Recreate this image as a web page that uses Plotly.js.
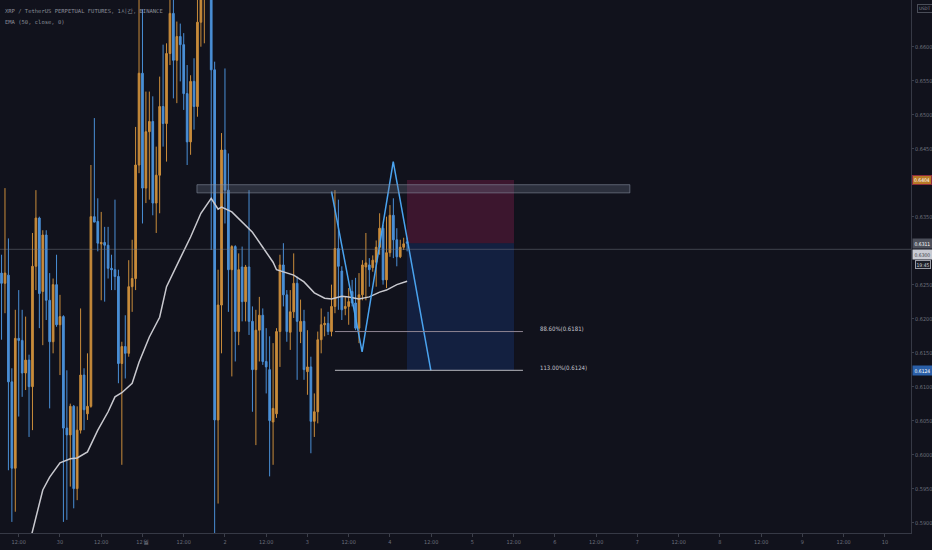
<!DOCTYPE html>
<html>
<head>
<meta charset="utf-8">
<script src="https://cdn.plot.ly/plotly-3.0.1.min.js"></script>
<style>
html,body{margin:0;padding:0;background:#11121c;}
#chart{width:932px;height:550px;}
</style>
</head>
<body>
<div id="chart"></div>
<script>
// ---- DATA (XRP/USDT perpetual, 1h candles, first candle 2020-11-29 07:00) ----
const firstCandleHour = -17; // hours relative to 2020-11-30 00:00
const opens = [
0.6267,0.6252,0.6264,0.6107,0.5980,0.6171,0.6168,0.6120,0.6139,0.6100,
0.6277,0.6348,0.6240,0.6323,0.6227,0.6166,0.6250,0.6191,0.6203,0.6039,
0.6029,0.6071,0.5950,0.6036,0.6117,0.6060,0.6071,0.6350,0.6343,0.6310,
0.6312,0.6308,0.6274,0.6272,0.6262,0.6134,0.6159,0.6149,0.6247,0.6259,
0.6426,0.6561,0.6392,0.6475,0.6490,0.6370,0.6411,0.6512,0.6487,0.6590,
0.6649,0.6580,0.6615,0.6603,0.6531,0.6460,0.6549,0.6512,0.6636,0.6690,
0.6710,0.6700,0.6566,0.6051,0.6220,0.6448,0.6389,0.6272,0.6306,0.6181,
0.6276,0.6225,0.6276,0.6196,0.6125,0.6183,0.6205,0.6137,0.6125,0.6048,
0.6060,0.6181,0.6279,0.6235,0.6180,0.6210,0.6252,0.6181,0.6196,0.6122,
0.6129,0.6049,0.6063,0.6169,0.6191,0.6193,0.6181,0.6218,0.6303,0.6270,
0.6215,0.6218,0.6240,0.6223,0.6186,0.6235,0.6276,0.6279,0.6275,0.6283,
0.6305,0.6333,0.6257,0.6297,0.6352,0.6316,0.6291,0.6305,0.6313];
const highs = [
0.6294,0.6392,0.6318,0.6127,0.6213,0.6242,0.6213,0.6203,0.6147,0.6326,
0.6389,0.6350,0.6330,0.6330,0.6267,0.6259,0.6294,0.6235,0.6205,0.6124,
0.6075,0.6073,0.6071,0.6215,0.6127,0.6149,0.6426,0.6495,0.6377,0.6357,
0.6335,0.6335,0.6294,0.6375,0.6272,0.6166,0.6205,0.6286,0.6316,0.6482,
0.6680,0.6655,0.6534,0.6534,0.6527,0.6453,0.6556,0.6603,0.6605,0.6680,
0.6678,0.6637,0.6634,0.6620,0.6573,0.6558,0.6583,0.6680,0.6720,0.6760,
0.6780,0.6720,0.6578,0.6272,0.6473,0.6568,0.6443,0.6308,0.6308,0.6296,
0.6306,0.6279,0.6389,0.6218,0.6213,0.6232,0.6215,0.6186,0.6174,0.6164,
0.6186,0.6294,0.6311,0.6242,0.6242,0.6296,0.6262,0.6228,0.6213,0.6183,
0.6144,0.6090,0.6181,0.6215,0.6203,0.6210,0.6250,0.6389,0.6375,0.6277,
0.6232,0.6245,0.6257,0.6260,0.6267,0.6286,0.6326,0.6289,0.6293,0.6315,
0.6355,0.6338,0.6350,0.6367,0.6377,0.6333,0.6316,0.6319,0.6319];
const lows = [
0.6169,0.6208,0.5977,0.5901,0.5916,0.6056,0.6085,0.6095,0.6026,0.6036,
0.6242,0.6186,0.6161,0.6198,0.6068,0.6149,0.6188,0.6117,0.5901,0.5904,
0.5953,0.5921,0.5933,0.6031,0.6036,0.6051,0.6069,0.6343,0.6299,0.6227,
0.6225,0.6259,0.6242,0.6242,0.6105,0.5985,0.6112,0.6144,0.6210,0.6242,
0.6414,0.6340,0.6370,0.6375,0.6352,0.6326,0.6355,0.6453,0.6431,0.6573,
0.6524,0.6517,0.6549,0.6507,0.6426,0.6441,0.6478,0.6497,0.6600,0.6605,
0.6680,0.6301,0.5870,0.5928,0.6149,0.6340,0.6210,0.6115,0.6137,0.6161,
0.6196,0.6196,0.6176,0.6063,0.6014,0.6137,0.6132,0.6090,0.5968,0.5985,
0.6054,0.6129,0.6218,0.6166,0.6154,0.6201,0.6110,0.6164,0.6110,0.6088,
0.6002,0.6026,0.6046,0.6149,0.6174,0.6176,0.6174,0.6208,0.6213,0.6198,
0.6205,0.6191,0.6218,0.6183,0.6164,0.6227,0.6227,0.6247,0.6269,0.6247,
0.6294,0.6250,0.6245,0.6291,0.6289,0.6277,0.6289,0.6301,0.6299];
const closes = [
0.6252,0.6267,0.6107,0.5980,0.6171,0.6168,0.6120,0.6139,0.6100,0.6277,
0.6348,0.6237,0.6323,0.6227,0.6166,0.6250,0.6191,0.6203,0.6039,0.6029,
0.6071,0.5950,0.6036,0.6117,0.6066,0.6071,0.6350,0.6342,0.6311,0.6312,
0.6308,0.6274,0.6272,0.6262,0.6134,0.6159,0.6149,0.6247,0.6259,0.6426,
0.6561,0.6392,0.6475,0.6490,0.6370,0.6411,0.6512,0.6487,0.6590,0.6649,
0.6580,0.6615,0.6603,0.6531,0.6460,0.6549,0.6512,0.6636,0.6690,0.6710,
0.6700,0.6566,0.6051,0.6220,0.6448,0.6389,0.6272,0.6306,0.6181,0.6272,
0.6225,0.6276,0.6196,0.6125,0.6183,0.6205,0.6137,0.6129,0.6050,0.6068,
0.6181,0.6279,0.6235,0.6181,0.6210,0.6252,0.6196,0.6196,0.6125,0.6129,
0.6049,0.6063,0.6169,0.6191,0.6193,0.6181,0.6218,0.6303,0.6277,0.6213,
0.6218,0.6225,0.6223,0.6186,0.6235,0.6279,0.6282,0.6272,0.6286,0.6305,
0.6333,0.6257,0.6297,0.6352,0.6316,0.6291,0.6305,0.6310,0.6311];

// EMA(50): hour offsets and values
const emaHours = [-9,-5,-3,0,3,5,8,11,14,16,18,21,23,26,29,31,35,38,41,44,46,47,50,53,56,59,62,63,65,68,71,74,77,79,82,84,87,90,93,95,98,101];
const emaValues = [0.5867,0.5948,0.5967,0.5988,0.5994,0.5995,0.6004,0.6036,0.6063,0.6085,0.6091,0.6105,0.6136,0.6173,0.6202,0.6247,0.6289,0.6320,0.6355,0.6377,0.6361,0.6364,0.6357,0.6342,0.6327,0.6305,0.6283,0.6272,0.6269,0.6264,0.6254,0.6238,0.6230,0.6229,0.6233,0.6232,0.6229,0.6232,0.6239,0.6242,0.6250,0.6255];

// Drawing (pattern) points
const patternHours = [79.0, 87.9, 96.96, 107.9];
const patternPrices = [0.6387, 0.6151, 0.6431, 0.6124];

// Levels
const zoneLow = 0.6385, zoneHigh = 0.6397, zoneStartH = 39.85, zoneEndH = 165.8;
const entryPrice = 0.6311, stopPrice = 0.6404, targetPrice = 0.6124;
const boxStartH = 100.95, boxEndH = 132.1;
const fibPrices = [0.6181, 0.6124];
const fibLabels = ['88.60%(0.6181)', '113.00%(0.6124)'];
const fibStartH = 80.0, fibEndH = 134.7, fibLabelH = 139.2;
const crosshairPrice = 0.6302;
const crosshairLabel = '0.6300';
const countdownLabel = '19:45';

// Axis ticks (0.6400 and 0.6300 are hidden under price labels in the reference)
const xTickHours = [-12,0,12,24,36,48,60,72,84,96,108,120,132,144,156,168,180,192,204,216,228,240];
const xTickLabels = ['12:00','30','12:00','12월','12:00','2','12:00','3','12:00','4','12:00','5','12:00','6','12:00','7','12:00','8','12:00','9','12:00','10'];
const yTickValues = [0.59,0.595,0.60,0.605,0.61,0.615,0.62,0.625,0.635,0.645,0.65,0.655,0.66];

// ---- helpers ----
const BASE = Date.UTC(2020,10,30,0,0,0);
function toDate(h){
  const d = new Date(BASE + h*3600000);
  return d.toISOString().slice(0,19).replace('T',' ');
}
const candleTimes = opens.map((_,i)=>toDate(firstCandleHour + i));

const UP = '#c98c3b', DOWN = '#4a8fd6';
const NARROW = '"Liberation Sans Narrow","DejaVu Sans Condensed",sans-serif';
const axisFont = {family:NARROW, size:5.5, color:'#6e717c'};

const traces = [
  {
    type:'candlestick', x:candleTimes, open:opens, high:highs, low:lows, close:closes,
    increasing:{line:{color:UP,width:1},fillcolor:UP},
    decreasing:{line:{color:DOWN,width:1},fillcolor:DOWN},
    whiskerwidth:0, hoverinfo:'none'
  },
  {
    type:'scatter', mode:'lines', x:emaHours.map(toDate), y:emaValues,
    line:{color:'#c9c9cf',width:1.5}, hoverinfo:'none'
  },
  {
    type:'scatter', mode:'lines', x:patternHours.map(toDate), y:patternPrices,
    line:{color:'#4aa3ef',width:1.5}, hoverinfo:'none'
  }
];

const shapes = [
  {type:'rect', xref:'x', yref:'y', x0:toDate(boxStartH), x1:toDate(boxEndH), y0:entryPrice, y1:stopPrice,
   fillcolor:'rgba(125,30,75,0.40)', line:{width:0}, layer:'below'},
  {type:'rect', xref:'x', yref:'y', x0:toDate(boxStartH), x1:toDate(boxEndH), y0:targetPrice, y1:entryPrice,
   fillcolor:'rgba(25,60,140,0.33)', line:{width:0}, layer:'below'},
  {type:'rect', xref:'x', yref:'y', x0:toDate(zoneStartH), x1:toDate(zoneEndH), y0:zoneLow, y1:zoneHigh,
   fillcolor:'rgba(110,120,140,0.30)', line:{color:'rgba(140,150,168,0.55)',width:1}, layer:'above'},
  {type:'line', xref:'paper', yref:'y', x0:0, x1:1, y0:crosshairPrice, y1:crosshairPrice,
   line:{color:'rgba(125,128,140,0.45)',width:1}, layer:'above'},
  {type:'line', xref:'x', yref:'y', x0:toDate(fibStartH), x1:toDate(fibEndH), y0:fibPrices[0], y1:fibPrices[0],
   line:{color:'#8f8592',width:1}, layer:'above'},
  {type:'line', xref:'x', yref:'y', x0:toDate(fibStartH), x1:toDate(fibEndH), y0:fibPrices[1], y1:fibPrices[1],
   line:{color:'#b8b8bf',width:1}, layer:'above'}
];

const smallFont = {family:'"DejaVu Sans Mono",monospace', size:5.5, color:'#8a8d98'};
const boxFont = (c)=>({family:NARROW, size:5, color:c});
const annotations = [
  {xref:'paper', yref:'paper', x:0, y:1, xanchor:'left', yanchor:'top', xshift:3, yshift:-6,
   text:'XRP / TetherUS PERPETUAL FUTURES, 1시간, BINANCE', showarrow:false, font:smallFont},
  {xref:'paper', yref:'paper', x:0, y:1, xanchor:'left', yanchor:'top', xshift:3, yshift:-17,
   text:'EMA (50, close, 0)', showarrow:false, font:smallFont},
  {xref:'x', yref:'y', x:toDate(fibLabelH), y:fibPrices[0], xanchor:'left', yanchor:'middle', yshift:3,
   text:fibLabels[0], showarrow:false, font:{family:NARROW, size:6, color:'#c4c4cc'}},
  {xref:'x', yref:'y', x:toDate(fibLabelH), y:fibPrices[1], xanchor:'left', yanchor:'middle', yshift:3,
   text:fibLabels[1], showarrow:false, font:{family:NARROW, size:6, color:'#c4c4cc'}},
  // price labels on the axis
  {xref:'paper', yref:'y', x:1, y:stopPrice, xanchor:'left', yanchor:'middle', xshift:1,
   text:stopPrice.toFixed(4), showarrow:false, bgcolor:'#b97a26', bordercolor:'#8c2a3c', borderwidth:1, borderpad:1,
   font:boxFont('#ffffff')},
  {xref:'paper', yref:'y', x:1, y:entryPrice, xanchor:'left', yanchor:'middle', xshift:1,
   text:entryPrice.toFixed(4), showarrow:false, bgcolor:'#4c4f5a', borderpad:1.5,
   font:boxFont('#ffffff')},
  {xref:'paper', yref:'y', x:1, y:0.6300, xanchor:'left', yanchor:'middle', xshift:1, yshift:-4,
   text:crosshairLabel, showarrow:false, bgcolor:'#c9cbd3', borderpad:1.5,
   font:boxFont('#3a3d48')},
  {xref:'paper', yref:'y', x:1, y:0.6300, xanchor:'left', yanchor:'middle', xshift:4, yshift:-14,
   text:countdownLabel, showarrow:false, bgcolor:'#1c1e28', bordercolor:'#9a9ca6', borderwidth:1, borderpad:0.5,
   font:{family:NARROW, size:5, color:'#d0d2da'}},
  {xref:'paper', yref:'y', x:1, y:targetPrice, xanchor:'left', yanchor:'middle', xshift:1,
   text:targetPrice.toFixed(4), showarrow:false, bgcolor:'#2a5fa8', borderpad:1.5,
   font:boxFont('#ffffff')},
  {xref:'paper', yref:'paper', x:1, y:1, xanchor:'left', yanchor:'top', xshift:6, yshift:-4,
   text:'USDT', showarrow:false, bgcolor:'#11121c', bordercolor:'#4a4d58', borderwidth:1, borderpad:1,
   font:{family:NARROW, size:4.5, color:'#8a8d98'}}
];

const layout = {
  width:932, height:550,
  margin:{l:0, r:21, t:0, b:17, pad:0},
  paper_bgcolor:'#11121c', plot_bgcolor:'#11121c',
  showlegend:false,
  xaxis:{
    type:'date', range:[toDate(-17.45), toDate(247.6)],
    tickvals:xTickHours.map(toDate), ticktext:xTickLabels,
    tickfont:axisFont, ticks:'outside', ticklen:3, tickcolor:'#3c3f4a',
    showline:true, linecolor:'#363945', linewidth:1,
    showgrid:false, zeroline:false, rangeslider:{visible:false}, fixedrange:true
  },
  yaxis:{
    side:'right', range:[0.58847, 0.66687],
    tickvals:yTickValues, ticktext:yTickValues.map(v=>v.toFixed(4)),
    tickfont:axisFont, ticks:'outside', ticklen:2, tickcolor:'#3c3f4a',
    ticklabelstandoff:0,
    showline:true, linecolor:'#363945', linewidth:1,
    showgrid:false, zeroline:false, fixedrange:true
  },
  shapes:shapes,
  annotations:annotations
};

Plotly.newPlot('chart', traces, layout, {displayModeBar:false, staticPlot:true});
</script>
</body>
</html>
